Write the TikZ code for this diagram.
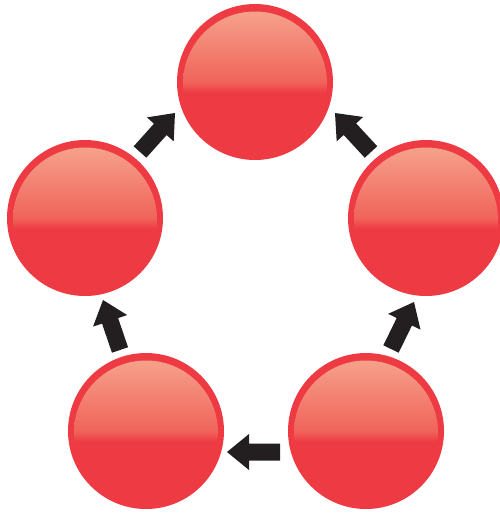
\documentclass[tikz,border=0pt]{standalone}
\usetikzlibrary{calc}
\definecolor{ballred}{HTML}{EE3A43}
\definecolor{ballmid}{HTML}{F0645A}
\definecolor{balltop}{HTML}{F6A790}
\definecolor{arrowblack}{HTML}{231F20}
\pgfdeclareverticalshading{glossy}{100bp}{color(0bp)=(ballred); color(46.5bp)=(ballred); color(50bp)=(ballmid); color(75bp)=(balltop); color(100bp)=(balltop)}
\tikzset{
  ball/.style={circle, fill=ballred, minimum size=156pt, inner sep=0pt,
    path picture={\shade[shading=glossy] ([yshift=-1.5pt]path picture bounding box.center) circle (72pt);}},
  flow/.style={fill=arrowblack}
}
\newcommand{\blockarrow}[2]{%
  \coordinate (#2-h) at ($(#2)!22pt!(#1)$);
  \fill[flow] ($(#1)!8.5pt!90:(#2)$) -- ($(#2-h)!8.5pt!90:(#2)$) -- ($(#2-h)!18pt!90:(#2)$)
    -- (#2) -- ($(#2-h)!18pt!-90:(#2)$) -- ($(#2-h)!8.5pt!-90:(#2)$) -- ($(#1)!8.5pt!-90:(#2)$) -- cycle;
}
\begin{document}
\begin{tikzpicture}[x=1pt,y=-1pt]
\useasboundingbox (0,0) rectangle (500,515);
\clip (0,0) rectangle (500,515);
\node[ball] (top) at (255,82) {};
\node[ball] (left) at (85,218) {};
\node[ball] (right) at (426,218) {};
\node[ball] (bl) at (146,431) {};
\node[ball] (br) at (366,431) {};
% arrow coordinates (tail, tip)
\coordinate (a1t) at (280,452); \coordinate (a1h) at (227,452);
\coordinate (a2t) at (120,350); \coordinate (a2h) at (103,300);
\coordinate (a3t) at (140,152); \coordinate (a3h) at (175,113);
\coordinate (a4t) at (371,152); \coordinate (a4h) at (335,113);
\coordinate (a5t) at (391,349); \coordinate (a5h) at (414,302);
\blockarrow{a1t}{a1h}
\blockarrow{a2t}{a2h}
\blockarrow{a3t}{a3h}
\blockarrow{a4t}{a4h}
\blockarrow{a5t}{a5h}
\end{tikzpicture}
\end{document}
